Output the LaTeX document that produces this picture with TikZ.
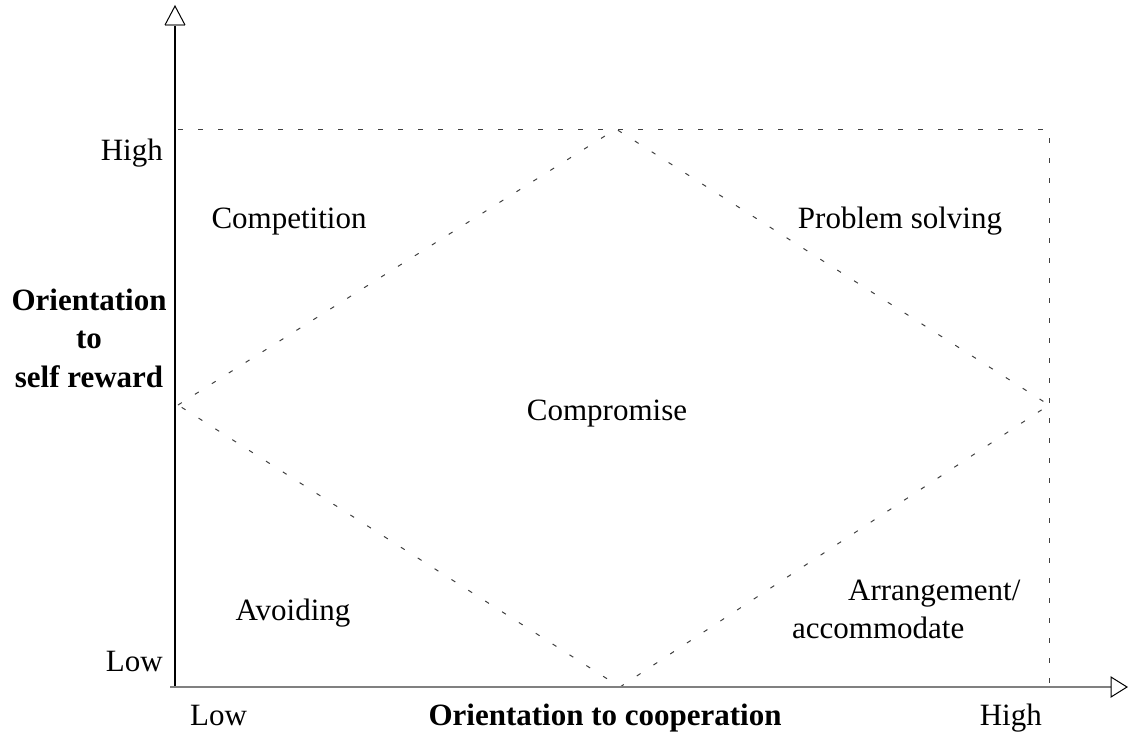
\documentclass[tikz,border=0pt]{standalone}
\usepackage{fontspec}
\setmainfont{Liberation Serif}
\begin{document}
\begin{tikzpicture}[x=1pt,y=-1pt,
  lbl/.style={inner sep=0pt,font=\fontsize{31}{38}\selectfont},
  blbl/.style={lbl,font=\fontsize{31}{38.5}\selectfont\bfseries,align=center},
  guide/.style={draw=black!75,line width=1pt,dash pattern=on 4.5pt off 15.5pt},
  yaxis/.style={draw=black,line width=1.5pt},
  xaxis/.style={draw=black!50,line width=2.5pt},
  headline/.style={draw=black,line width=1pt,line join=miter}]
\useasboundingbox (0,0) rectangle (1128,732);

% axis end points
\coordinate (O) at (175,687);
\coordinate (Ytop) at (175,25);
\coordinate (Xstart) at (170,687);
\coordinate (Xend) at (1111,687);

% corners of the dotted frame and the diamond
\coordinate (TL) at (178,129);
\coordinate (TR) at (1049,129);
\coordinate (BR) at (1049,687);
\coordinate (DT) at (616,129);
\coordinate (DL) at (178,405);
\coordinate (DR) at (1049,405);
\coordinate (DB) at (620,687);

% dotted guides
\draw[guide] (TL) -- (TR) -- (BR);
\draw[guide] (DL) -- (DT) -- (DR) -- (DB) -- cycle;

% axes
\draw[yaxis] (O) -- (Ytop);
\draw[xaxis] (Xstart) -- (Xend);

% open arrow heads
\draw[black!50,line width=2pt] (165,25) -- (185,25);
\draw[headline] (165,25) -- (175,6) -- (185,25);
\draw[headline] (Xend) ++(0,-10) -- (1127,687) -- (1111,697) -- cycle;

% axis values
\node[lbl,anchor=base east] (yhigh) at (163,160) {High};
\node[lbl,anchor=base east] (ylow) at (163,671) {Low};
\node[lbl,anchor=base west] (xlow) at (190,725) {Low};
\node[lbl,anchor=base east] (xhigh) at (1042,725) {High};

% axis titles
\node[blbl,anchor=base] (ytitle) at (89,387) {Orientation\\to\\self reward};
\node[blbl,anchor=base] (xtitle) at (605,725) {Orientation to cooperation};

% region names
\node[lbl,anchor=base] (comp) at (289,228) {Competition};
\node[lbl,anchor=base] (prob) at (900,228) {Problem solving};
\node[lbl,anchor=base] (compr) at (607,420) {Compromise};
\node[lbl,anchor=base] (avoid) at (293,620) {Avoiding};
\node[lbl,anchor=base west] (arr) at (848,600) {Arrangement/};
\node[lbl,anchor=base west] (acc) at (792,638) {accommodate};
\end{tikzpicture}
\end{document}
